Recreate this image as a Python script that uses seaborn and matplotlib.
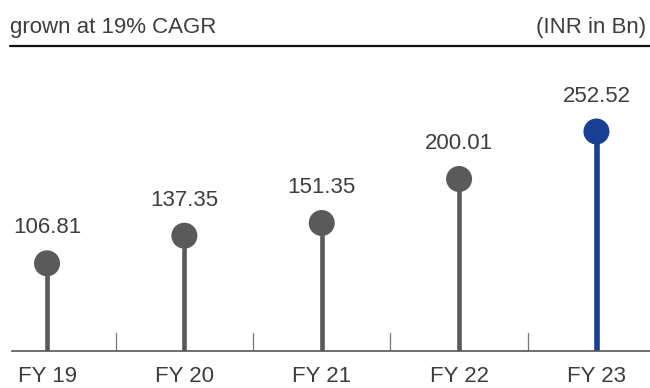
import matplotlib
matplotlib.use("Agg")
import matplotlib.pyplot as plt
import seaborn as sns
import pandas as pd

categories = ["FY 19", "FY 20", "FY 21", "FY 22", "FY 23"]
values = [106.81, 137.35, 151.35, 200.01, 252.52]
labels = ["106.81", "137.35", "151.35", "200.01", "252.52"]
colors = ["#5a5a5a", "#5a5a5a", "#5a5a5a", "#5a5a5a", "#1a4096"]
header_left = "grown at 19% CAGR"
header_right = "(INR in Bn)"

sns.set_theme(style="white")
plt.rcParams["font.family"] = ["Liberation Sans", "DejaVu Sans"]
txt = "#3d3d3d"

df = pd.DataFrame({"cat": categories, "val": values})

fig = plt.figure(figsize=(6.5, 3.88), dpi=100)
ax = fig.add_axes([12/650, 37/388, 638/650, 305/388])

sns.barplot(data=df, x="cat", y="val", hue="cat", palette=colors, width=0.045,
            legend=False, ax=ax, saturation=1)
sns.scatterplot(data=df, x="cat", y="val", hue="cat", palette=colors, s=26**2*0.72**2,
                legend=False, ax=ax, linewidth=0, zorder=5)

for i, (v, lab) in enumerate(zip(values, labels)):
    ax.annotate(lab, (i, v), xytext=(0, 25.5), textcoords="offset points",
                ha="center", va="center", fontsize=16, color=txt)

ax.set_xlim(-0.255, 4.39)
ax.set_ylim(9.9, 347)
for s in ["top", "right", "left"]:
    ax.spines[s].set_visible(False)
ax.spines["bottom"].set_color("#555555")
ax.spines["bottom"].set_linewidth(1.2)
ax.set_yticks([])
ax.set_xlabel("")
ax.set_ylabel("")
ax.tick_params(axis="x", length=0, pad=11, labelsize=16, labelcolor=txt)

for i in range(len(categories) - 1):
    ax.plot([i + 0.5, i + 0.5], [9.9, 30], color="#777777", lw=0.9, zorder=1)

fig.add_artist(plt.Line2D([10/650, 1.0], [1 - 46/388, 1 - 46/388], color="#111111", lw=1.6))
fig.text(10/650, 1 - 28/388, header_left, ha="left", va="center", fontsize=16, color=txt)
fig.text(646/650, 1 - 28/388, header_right, ha="right", va="center", fontsize=16, color=txt)

fig.savefig("out.png", dpi=100)
